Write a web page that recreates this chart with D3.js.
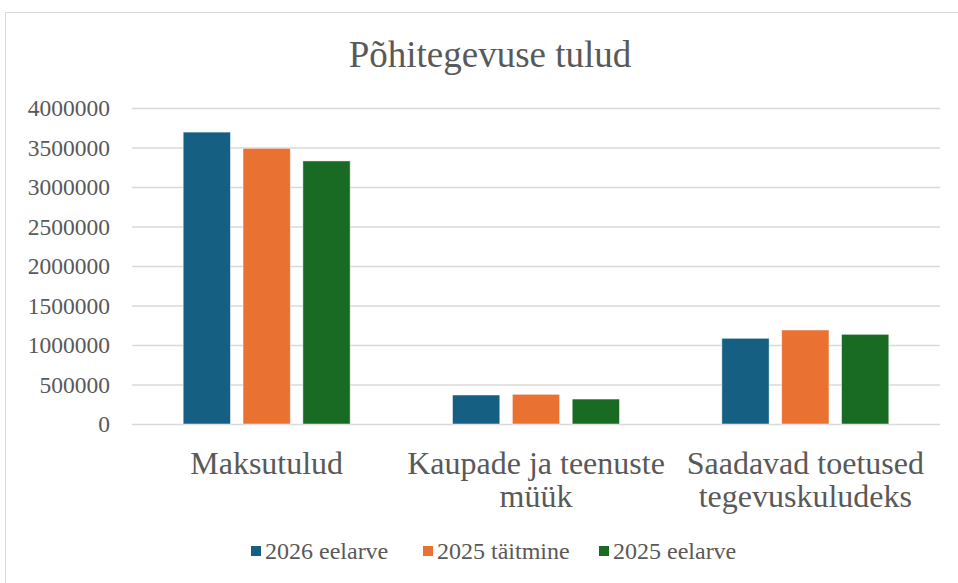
<!DOCTYPE html>
<html>
<head>
<meta charset="utf-8">
<script src="https://cdn.jsdelivr.net/npm/d3@7/dist/d3.min.js"></script>
<style>
  html, body { margin: 0; padding: 0; background: #fff; }
  svg text { font-family: "Liberation Serif", "Times New Roman", serif !important; }
</style>
</head>
<body>
<svg id="chart" width="958" height="583"></svg>
<script>
// values
const categories = ["Maksutulud", "Kaupade ja teenuste müük", "Saadavad toetused tegevuskuludeks"];
const seriesNames = ["2026 eelarve", "2025 täitmine", "2025 eelarve"];
const seriesColors = ["#156082", "#e97132", "#196b24"];
const eelarve2026 = [3695000, 367000, 1085000];
const taitmine2025 = [3490000, 376000, 1190000];
const eelarve2025 = [3330000, 316000, 1135000];
const yTicks = [0, 500000, 1000000, 1500000, 2000000, 2500000, 3000000, 3500000, 4000000];

const seriesValues = [eelarve2026, taitmine2025, eelarve2025];
const W = 958, H = 583;
const margin = { top: 108, right: 18, bottom: 159, left: 132 };
const textColor = "#595959";
const gridColor = "#d9d9d9";

const svg = d3.select("#chart");

// chart area outline (right/bottom edges fall outside the picture)
svg.append("rect")
  .attr("x", 5.5).attr("y", 12.5)
  .attr("width", 1000).attr("height", 1000)
  .attr("fill", "#fff").attr("stroke", gridColor).attr("stroke-width", 1);

svg.append("text")
  .attr("x", 490).attr("y", 67)
  .attr("text-anchor", "middle")
  .attr("font-size", 37)
  .attr("fill", textColor)
  .text("Põhitegevuse tulud");

const x0 = d3.scaleBand()
  .domain(categories)
  .range([margin.left, W - margin.right])
  .paddingInner(0.38).paddingOuter(0.19);

const x1 = d3.scaleBand()
  .domain(seriesNames)
  .range([0, x0.bandwidth()])
  .paddingInner(0.21).paddingOuter(0);

const y = d3.scaleLinear()
  .domain([0, 4000000])
  .range([H - margin.bottom, margin.top]);

// gridlines + y labels
const yAxis = d3.axisLeft(y)
  .tickValues(yTicks)
  .tickFormat(d3.format("d"))
  .tickSize(-(W - margin.left - margin.right))
  .tickPadding(22);

const gy = svg.append("g")
  .attr("transform", `translate(${margin.left},0)`)
  .call(yAxis);
gy.select(".domain").remove();
gy.selectAll(".tick line").attr("stroke", gridColor).attr("stroke-width", 1.5);
gy.selectAll(".tick text")
  .attr("fill", textColor)
  .attr("font-size", 23.5);

// bars
const groups = svg.append("g").selectAll("g")
  .data(categories)
  .join("g")
  .attr("transform", (d) => `translate(${x0(d)},0)`);

groups.selectAll("rect")
  .data((c, ci) => seriesNames.map((s, si) => ({ s, si, v: seriesValues[si][ci] })))
  .join("rect")
  .attr("x", (d) => x1(d.s))
  .attr("y", (d) => y(d.v))
  .attr("width", x1.bandwidth())
  .attr("height", (d) => y(0) - y(d.v))
  .attr("fill", (d) => seriesColors[d.si])
  .attr("stroke", "#ffffff")
  .attr("stroke-opacity", 0.6)
  .attr("stroke-width", 0.8);

// category labels, wrapped to the band width
const labelSize = 32;
const labels = svg.append("g").selectAll("text")
  .data(categories)
  .join("text")
  .attr("x", (d) => x0(d) + x0.bandwidth() / 2)
  .attr("y", 474)
  .attr("text-anchor", "middle")
  .attr("font-size", labelSize)
  .attr("fill", textColor);

labels.each(function (d) {
  const text = d3.select(this);
  const words = d.split(" ");
  const maxW = x0.step();
  let line = [];
  let tspan = text.append("tspan").attr("x", text.attr("x")).attr("dy", 0);
  words.forEach((w) => {
    line.push(w);
    tspan.text(line.join(" "));
    if (tspan.node().getComputedTextLength() > maxW && line.length > 1) {
      line.pop();
      tspan.text(line.join(" "));
      line = [w];
      tspan = text.append("tspan").attr("x", text.attr("x")).attr("dy", 33).text(w);
    }
  });
});

// legend
const legendItems = [
  { name: seriesNames[0], color: seriesColors[0], x: 251 },
  { name: seriesNames[1], color: seriesColors[1], x: 423 },
  { name: seriesNames[2], color: seriesColors[2], x: 599 }
];
const legend = svg.append("g").selectAll("g")
  .data(legendItems)
  .join("g")
  .attr("transform", (d) => `translate(${d.x},546)`);
legend.append("rect")
  .attr("width", 10).attr("height", 10)
  .attr("fill", (d) => d.color);
legend.append("text")
  .attr("x", 14).attr("y", 13)
  .attr("font-size", 24)
  .attr("fill", textColor)
  .text((d) => d.name);
</script>
</body>
</html>
